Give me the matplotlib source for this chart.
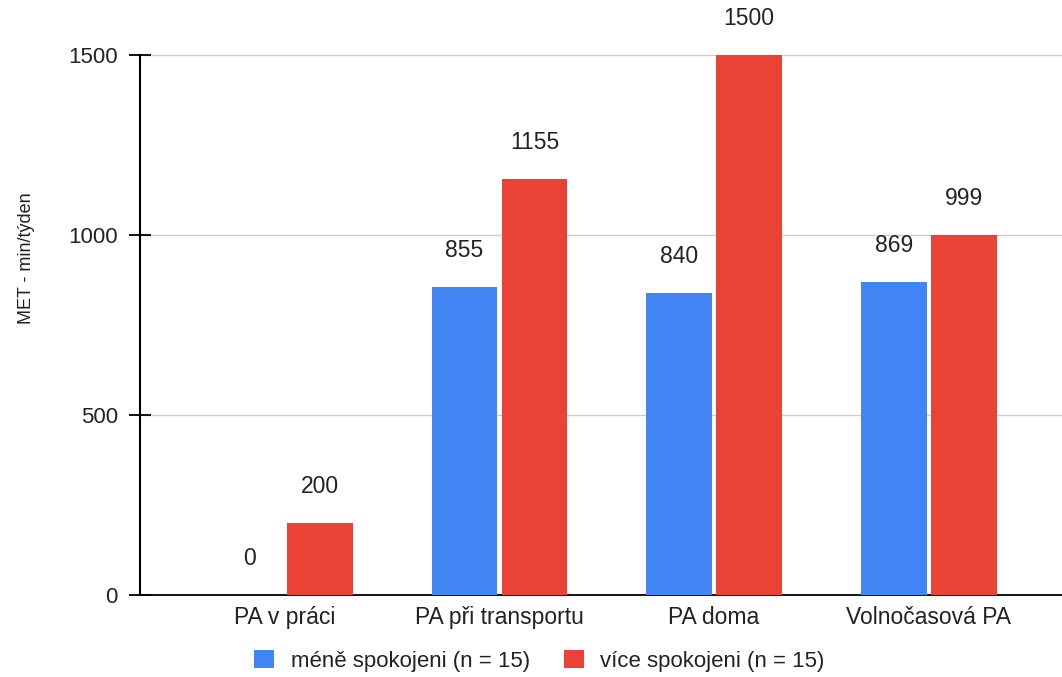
import matplotlib.pyplot as plt
import numpy as np

categories = ["PA v práci", "PA při transportu", "PA doma", "Volnočasová PA"]
series_names = ["méně spokojeni (n = 15)", "více spokojeni (n = 15)"]
mene = [0, 855, 840, 869]
vice = [200, 1155, 1500, 999]

blue = "#4285F4"
red = "#EA4335"

plt.rcParams["font.family"] = ["Liberation Sans", "DejaVu Sans"]

fig = plt.figure(figsize=(10.62, 6.77), dpi=100)
ax = fig.add_axes([0.1318, 0.1211, 0.868, 0.864])

x = np.arange(len(categories))
w = 0.307
off = 0.163
b1 = ax.bar(x - off, mene, w, color=blue, label=series_names[0], zorder=3)
b2 = ax.bar(x + off, vice, w, color=red, label=series_names[1], zorder=3)

for bars, vals in ((b1, mene), (b2, vice)):
    for rect, v in zip(bars, vals):
        ax.annotate(str(v), (rect.get_x() + rect.get_width() / 2, v),
                    xytext=(0, 18), textcoords="offset points",
                    ha="center", va="bottom", fontsize=16.5, color="#222222")

ax.set_xlim(-0.675, 3.62)
ax.set_ylim(0, 1625)
ax.set_yticks([0, 500, 1000, 1500])
ax.set_xticks(x)
ax.set_xticklabels(categories, fontsize=16.5, color="#222222")
ax.tick_params(axis="x", length=0, pad=8)
ax.tick_params(axis="y", direction="inout", length=16, width=1.3, pad=8,
               labelsize=16, labelcolor="#222222")
ax.grid(axis="y", color="#cccccc", linewidth=1, zorder=0)

for s in ("top", "right"):
    ax.spines[s].set_visible(False)
ax.spines["left"].set_linewidth(1.5)
ax.spines["bottom"].set_linewidth(1.3)
ax.spines["left"].set_bounds(0, 1500)

ax.set_ylabel("MET - min/týden", fontsize=13, color="#222222")
ax.yaxis.set_label_coords(-0.114, 0.576)

fig.legend(loc="center", bbox_to_anchor=(0.508, 0.024), ncol=2, frameon=False,
           fontsize=16, handlelength=0.9, handleheight=0.9, columnspacing=1.5,
           handletextpad=0.75, labelcolor="#222222")

fig.savefig("out.png", dpi=100)
